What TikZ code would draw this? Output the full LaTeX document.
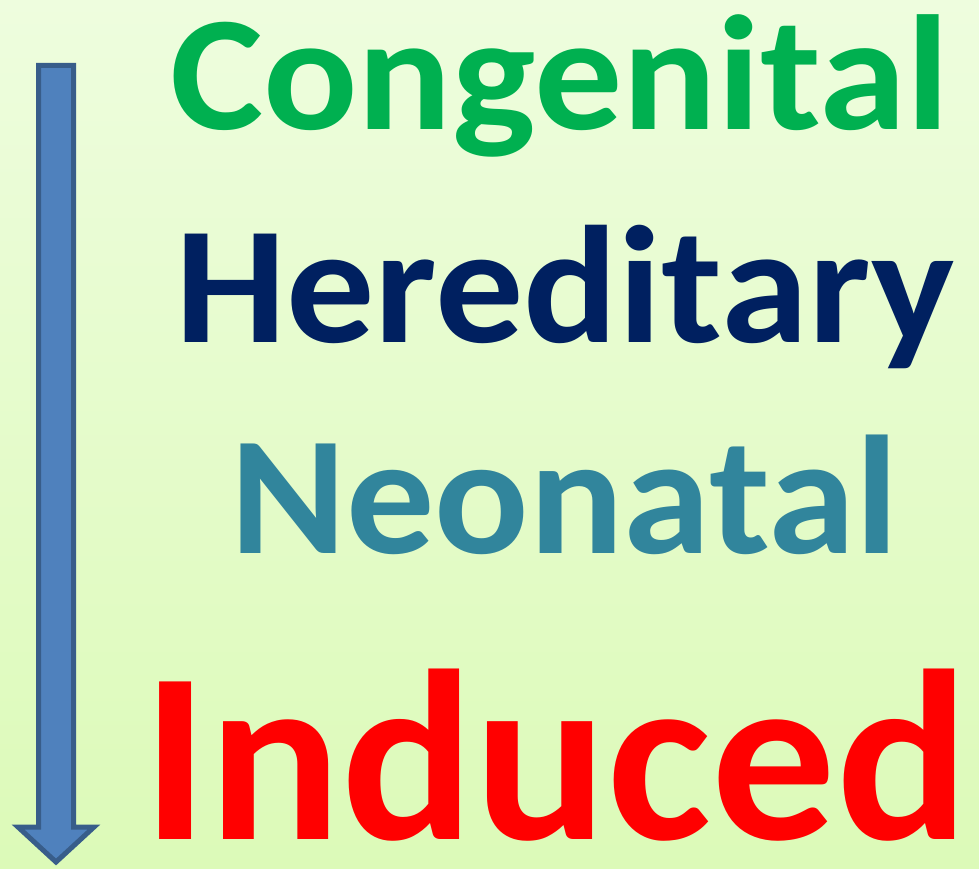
\documentclass[tikz,border=0pt]{standalone}
\usepackage{fontspec}
\setmainfont{Carlito}
\definecolor{bgtop}{RGB}{238,253,222}
\definecolor{bgbot}{RGB}{220,250,184}
\definecolor{arrfill}{RGB}{79,129,189}
\definecolor{arrline}{RGB}{56,93,138}
\definecolor{cgreen}{RGB}{0,176,80}
\definecolor{cnavy}{RGB}{0,32,96}
\definecolor{cteal}{RGB}{49,133,156}
\definecolor{cred}{RGB}{255,0,0}
\newcommand{\wordtext}[3]{\scalebox{1}[#2]{\fontsize{#1}{#1}\selectfont #3}}
\begin{document}
\begin{tikzpicture}[x=1pt,y=-1pt,
  word/.style={anchor=base west,inner sep=0pt,font=\bfseries}]
\useasboundingbox (0,0) rectangle (979,869);
\shade[top color=bgtop,bottom color=bgbot] (0,0) rectangle (979,869);
\draw[fill=arrfill,draw=arrline,line width=5pt,line join=miter]
  (38.5,65.5) -- (73.5,65.5) -- (73.5,827) -- (94,827) -- (56,862) -- (18,827) -- (38.5,827) -- cycle;
\node[word,text=cgreen] (c) at (170,130) {\wordtext{176}{0.93}{Congenital}};
\node[word,text=cnavy] (h) at (175,342) {\wordtext{176}{0.95}{Hereditary}};
\node[word,text=cteal] (n) at (230,553) {\wordtext{176}{0.96}{Neonatal}};
\node[word,text=cred] (i) at (142,839) {\wordtext{248}{0.98}{Induced\kern-0.06em}};
\end{tikzpicture}
\end{document}
